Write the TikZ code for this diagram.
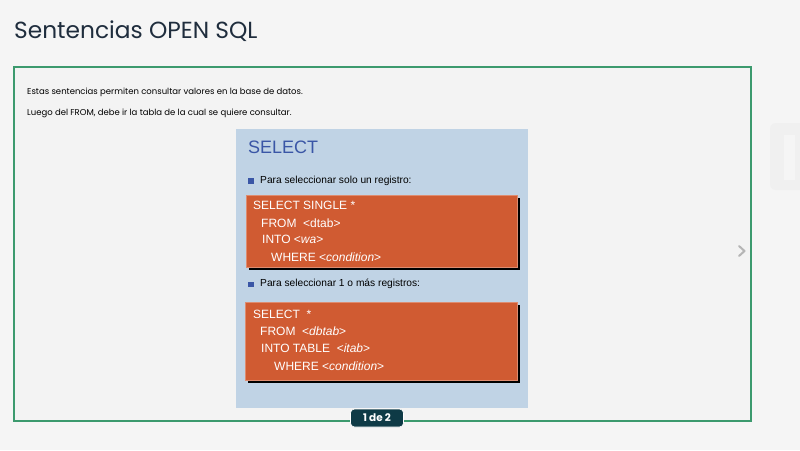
\documentclass[tikz,border=0pt]{standalone}
\usepackage{fontspec}
\setmainfont{Liberation Sans}
\newfontfamily\pop{Poppins}
\definecolor{bgc}{HTML}{F5F5F5}
\definecolor{innerc}{HTML}{F3F3F3}
\definecolor{framec}{HTML}{3C9A6E}
\definecolor{titlec}{HTML}{1F2D3D}
\definecolor{panelc}{HTML}{C0D3E5}
\definecolor{headc}{HTML}{3A56A6}
\definecolor{orangec}{HTML}{D05B32}
\definecolor{badgec}{HTML}{0E3A46}
\definecolor{chevc}{HTML}{B5B5B5}
\definecolor{faintc}{HTML}{F0F0F0}
\tikzset{
  txt/.style={anchor=west, inner sep=0pt, font=\pop\fontsize{8.5}{10}\selectfont, text=black},
  code/.style={anchor=west, inner sep=0pt, font=\fontsize{12}{14}\selectfont, text=white},
  bul/.style={anchor=west, inner sep=0pt, font=\fontsize{10.2}{12}\selectfont, text=black},
  sq/.style={fill=headc, minimum size=5.5pt, inner sep=0pt},
  obox/.style={fill=orangec, draw=orangec!70!white, line width=0.6pt},
}
\begin{document}
\begin{tikzpicture}[x=1pt,y=-1pt]
\fill[bgc] (0,0) rectangle (800,450);
\useasboundingbox (0,0) rectangle (800,450);
% faint right shapes
\fill[faintc,rounded corners=6pt] (770,123) rectangle (805,190);
\fill[bgc] (784,135) rectangle (795,180);
% frame
\fill[innerc] (14,67) rectangle (751,421);
\draw[framec, line width=1.8pt] (14,67) rectangle (751,421);
% title
\node[anchor=base west, inner sep=0pt, text=titlec, font=\pop\fontsize{23.3}{27}\selectfont] (title) at (14,38) {Sentencias OPEN SQL};
% texts
\node[txt] (t1) at (27,92) {Estas sentencias permiten consultar valores en la base de datos.};
\node[txt] (t2) at (27,113) {Luego del FROM, debe ir la tabla de la cual se quiere consultar.};
% panel
\fill[panelc] (236,129) rectangle (528,408);
\node[anchor=base west, inner sep=0pt, text=headc, font=\fontsize{18}{20}\selectfont] (head) at (248,153) {SELECT};
\node[sq] (b1) at (251,181) {};
\node[bul] (l1) at (260,180.5) {Para seleccionar solo un registro:};
% box 1
\fill[black] (249,198) rectangle (520,270);
\fill[obox] (246,195) rectangle (517,267);
\node[code] (c11) at (253,205) {SELECT SINGLE *};
\node[code] (c12) at (261,223) {FROM\ \ <dtab>};
\node[code] (c13) at (262,239.5) {INTO <\textit{wa}>};
\node[code] (c14) at (271,257) {WHERE <\textit{condition}>};
% bullet 2
\node[sq] (b2) at (251,284.5) {};
\node[bul] (l2) at (260,284) {Para seleccionar 1 o más registros:};
% box 2
\fill[black] (248,305) rectangle (520,383);
\fill[obox] (245,302) rectangle (517,380);
\node[code] (c21) at (253,314) {SELECT\ \ *};
\node[code] (c22) at (260,331.5) {FROM\ \ <\textit{dbtab}>};
\node[code] (c23) at (261,348.5) {INTO TABLE\ \ <\textit{itab}>};
\node[code] (c24) at (274,366) {WHERE <\textit{condition}>};
% badge
\node[fill=badgec, draw=white, line width=0.6pt, rounded corners=4pt, minimum width=53pt, minimum height=18pt, inner sep=0pt, text=white, font=\pop\bfseries\fontsize{10.5}{12}\selectfont] (badge) at (377,418) {1\hspace{0.2em}de\hspace{0.2em}2};
% chevron
\draw[chevc, line width=2pt, line cap=round, line join=round] (739,246) -- (744.5,251) -- (739,256);
\end{tikzpicture}
\end{document}
